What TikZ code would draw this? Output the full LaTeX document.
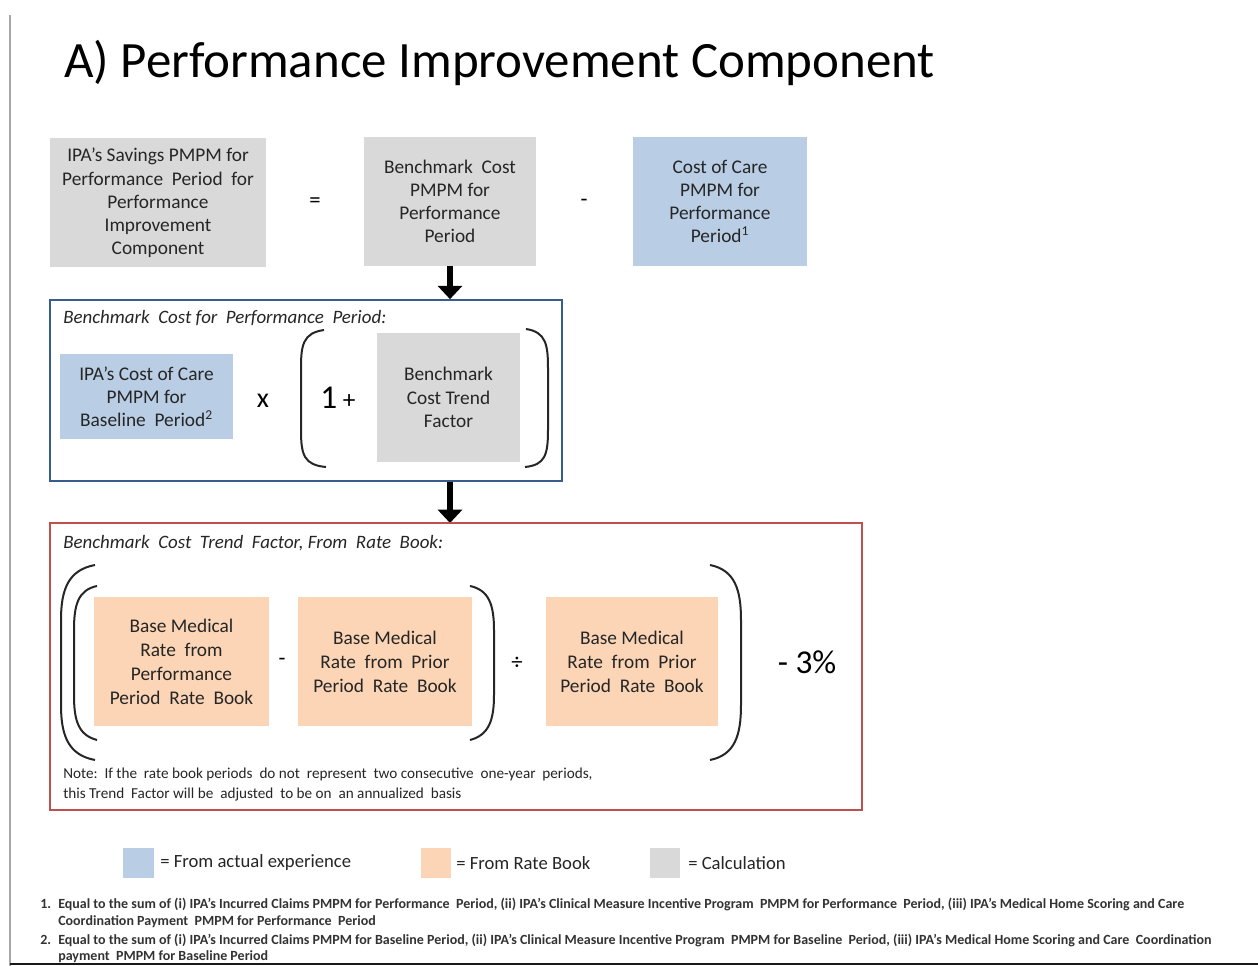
\documentclass[tikz,border=0pt]{standalone}
\usepackage{fontspec}
\setmainfont{Carlito}
\usetikzlibrary{arrows.meta}
\definecolor{calcgray}{HTML}{D9D9D9}
\definecolor{actblue}{HTML}{B9CDE5}
\definecolor{rborange}{HTML}{FBD5B5}
\definecolor{frameblue}{HTML}{385D8A}
\definecolor{framered}{HTML}{C0504D}
\tikzset{
  box/.style={inner sep=0pt, align=center, font=\fontsize{14.5}{17.4}\selectfont, text=black!85},
  gbox/.style={box, fill=calcgray},
  bbox/.style={box, fill=actblue},
  obox/.style={box, fill=rborange, font=\fontsize{14.5}{18}\selectfont},
  op/.style={inner sep=0pt, font=\fontsize{17}{18}\selectfont},
  frame/.style={draw, line width=1.2pt, inner sep=0pt},
  flabel/.style={anchor=west, inner sep=0pt, font=\fontsize{14.2}{16}\selectfont\itshape, text=black!85},
  paren/.style={line width=1.5pt, draw=black!85},
  bigarrow/.style={line width=5pt, -{Triangle[width=18pt,length=10pt]}},
  legsq/.style={inner sep=0pt, minimum width=23pt, minimum height=22.5pt},
  legtxt/.style={anchor=west, inner sep=0pt, font=\fontsize{14}{16}\selectfont, text=black!85},
  fn/.style={anchor=west, inner sep=0pt, font=\fontsize{10.5}{12}\selectfont\bfseries, text=black!80},
}
\begin{document}
\begin{tikzpicture}[x=0.75pt, y=-0.75pt]
\useasboundingbox (0,0) rectangle (1258,966);
\fill[white] (0,0) rectangle (1258,966);
% page edges
\draw[line width=1.5pt, black!35] (10,15) -- (10,966);
\draw[line width=2pt, black!90] (10,964) -- (1258,964);

% title
\node[anchor=base west, inner sep=0pt, font=\fontsize{38.2}{40}\selectfont] (title) at (64,78) {A) Performance Improvement Component};

% top row
\node[gbox, minimum width=162pt, minimum height=96.75pt] (savings) at (158,203)
  {IPA’s Savings PMPM for\\Performance\ \ Period\ \ for\\Performance\\Improvement\\Component};
\node[op] (eq) at (315,203) {=};
\node[gbox, minimum width=129pt, minimum height=96.75pt] (bench) at (450,201.5)
  {Benchmark\ \ Cost\\PMPM for\\Performance\\Period};
\node[op] (minus1) at (584,203) {-};
\node[bbox, minimum width=130.5pt, minimum height=96.75pt] (coc) at (720,201.5)
  {Cost of Care\\PMPM for\\Performance\\Period\textsuperscript{1}};

% frame 1
\node[frame, draw=frameblue, minimum width=384pt, minimum height=135.75pt] (frame1) at (306,390.5) {};
\node[flabel] (f1label) at (63,318) {Benchmark\ \ Cost\ for\ \ Performance\ \ Period:};
\node[bbox, minimum width=129.75pt, minimum height=63.75pt] (base) at (146.5,396.5)
  {IPA’s Cost of Care\\PMPM for\\Baseline\ \ Period\textsuperscript{2}};
\node[inner sep=0pt, font=\fontsize{21}{22}\selectfont] (times) at (263,401) {x};
\node[inner sep=0pt, anchor=base] (one) at (338,409) {\fontsize{25}{26}\selectfont 1\,\fontsize{19}{20}\selectfont+};
\node[gbox, minimum width=107.25pt, minimum height=96.75pt] (trend) at (448.5,397.5)
  {Benchmark\\Cost Trend\\Factor};
\draw[paren] (324,330) .. controls (303,333) and (301,345) .. (301,368) -- (301,430) .. controls (301,455) and (304,465) .. (326,467);
\draw[paren] (526,329) .. controls (546,332) and (548,345) .. (548,368) -- (548,430) .. controls (548,455) and (545,465) .. (525,467);

% arrows
\draw[bigarrow] (bench.south) -- (bench.south |- frame1.north);
\draw[bigarrow] (bench.south |- frame1.south) -- (bench.south |- 450,523);

% frame 2
\node[frame, draw=framered, minimum width=609pt, minimum height=215.25pt] (frame2) at (456,666.5) {};
\node[flabel] (f2label) at (63,543) {Benchmark\ \ Cost\ \ Trend\ \ Factor,\ From\ \ Rate\ \ Book:};
\node[obox, minimum width=131.25pt, minimum height=96.75pt] (perf) at (181.5,661.5)
  {Base Medical\\Rate\ \ from\\Performance\\Period\ \ Rate\ \ Book};
\node[op] (minus2) at (282,662) {-};
\node[obox, minimum width=130.5pt, minimum height=96.75pt] (prior1) at (385,661.5)
  {Base Medical\\Rate\ \ from\ \ Prior\\Period\ \ Rate\ \ Book};
\node[op] (div) at (517,663) {÷};
\node[obox, minimum width=129pt, minimum height=96.75pt] (prior2) at (632,661.5)
  {Base Medical\\Rate\ \ from\ \ Prior\\Period\ \ Rate\ \ Book};
\node[inner sep=0pt, font=\fontsize{25}{26}\selectfont] (pct) at (807,662) {- 3\%};
% parentheses
\draw[paren] (95,565) .. controls (68,570) and (61,590) .. (61,620) -- (61,705) .. controls (61,735) and (68,755) .. (95,760);
\draw[paren] (97,586) .. controls (78,590) and (74,605) .. (74,630) -- (74,695) .. controls (74,720) and (78,735) .. (97,740);
\draw[paren] (470,586) .. controls (489,590) and (494,605) .. (494,630) -- (494,695) .. controls (494,720) and (489,735) .. (470,740);
\draw[paren] (710,565) .. controls (735,570) and (741,590) .. (741,620) -- (741,705) .. controls (741,735) and (735,755) .. (710,760);
\node[anchor=west, inner sep=0pt, align=left, font=\fontsize{11.4}{15}\selectfont, text=black!85] (note) at (63,785)
  {Note:\ \ If the\ \ rate book periods\ \ do not\ \ represent\ \ two consecutive\ \ one-year\ \ periods,\\this Trend\ \ Factor will be\ \ adjusted\ \ to be on\ \ an annualized\ \ basis};

% legend
\node[legsq, fill=actblue] (lblue) at (138.5,863) {};
\node[legtxt] (lbluet) at (160,863) {= From actual experience};
\node[legsq, fill=rborange] (lorange) at (436,863) {};
\node[legtxt] (loranget) at (456,863) {= From Rate Book};
\node[legsq, fill=calcgray] (lgray) at (665,863) {};
\node[legtxt] (lgrayt) at (688,863) {= Calculation};

% footnotes
\node[fn] (n1) at (40,904) {1.};
\node[fn] (fn1a) at (58,904) {Equal to\ the sum of (i) IPA’s Incurred Claims PMPM for Performance\ \ Period, (ii) IPA’s Clinical Measure Incentive Program\ \ PMPM for Performance\ \ Period, (iii) IPA’s Medical Home Scoring and Care};
\node[fn] (fn1b) at (58,922) {Coordination Payment\ \ PMPM for Performance\ \ Period};
\node[fn] (n2) at (40,940) {2.};
\node[fn] (fn2a) at (58,940) {Equal to\ the sum of (i) IPA’s Incurred Claims PMPM for Baseline Period, (ii) IPA’s Clinical Measure Incentive Program\ \ PMPM for Baseline\ \ Period, (iii) IPA’s Medical Home Scoring and Care\ \ Coordination};
\node[fn] (fn2b) at (58,957) {payment\ \ PMPM for Baseline\ Period};
\end{tikzpicture}
\end{document}
